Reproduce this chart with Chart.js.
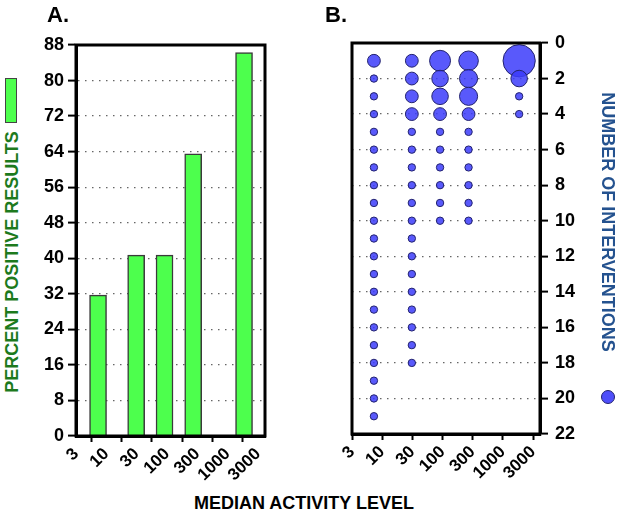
<!DOCTYPE html>
<html>
<head>
<meta charset="utf-8">
<script src="https://cdn.jsdelivr.net/npm/chart.js@4"></script>
<style>
  body { margin: 0; background: #fff; width: 618px; height: 514px; position: relative; overflow: hidden; font-family: 'Liberation Sans', Arial, sans-serif; }
  canvas { position: absolute; top: 0; }
  .lbl { position: absolute; font-weight: bold; white-space: nowrap; }
  .panel { font-size: 22px; color: #000; top: 2px; }
  .rot { transform-origin: center center; }
</style>
</head>
<body>
<canvas id="chart-a" width="240" height="490" style="left:40px"></canvas>
<canvas id="chart-b" width="300" height="490" style="left:300px"></canvas>

<div class="lbl panel" style="left:47px">A.</div>
<div class="lbl panel" style="left:325px">B.</div>

<div class="lbl rot" id="title-a" style="font-size:18px;color:#1d7a1d;left:12px;top:262px;transform:translate(-50%,-50%) rotate(-90deg)">PERCENT POSITIVE RESULTS</div>
<div style="position:absolute;left:5px;top:78px;width:10px;height:43px;background:#4dff4d;border:1px solid #444"></div>

<div class="lbl rot" id="title-b" style="font-size:18px;color:#24528f;left:607px;top:222px;transform:translate(-50%,-50%) rotate(90deg)">NUMBER OF INTERVENTIONS</div>
<div style="position:absolute;left:601px;top:390px;width:12px;height:12px;border-radius:50%;background:rgba(60,60,250,0.9);border:1px solid #22226e"></div>

<div class="lbl" style="font-size:18px;color:#000;left:304px;top:503px;transform:translate(-50%,-50%)">MEDIAN ACTIVITY LEVEL</div>

<script>
// ===== DATA =====
const tickLabels = ['3', '10', '30', '100', '300', '1000', '3000'];
const tickExponents = [0.5, 1, 1.5, 2, 2.5, 3, 3.5];

// median activity level of each group (same groups in A and B)
const activityLevels = [7.3, 31, 91, 270, 1860];

// A. percent positive results
const percentPositive = [31.7, 40.7, 40.7, 63.5, 86.3];

// B. relative weight of each bubble, one entry per intervention count (1, 2, 3 ...)
const weightsGroup1 = [3, 1, 1, 1, 1, 1, 1, 1, 1, 1, 1, 1, 1, 1, 1, 1, 1, 1, 1, 1, 1];
const weightsGroup2 = [3, 3, 3, 3, 1, 1, 1, 1, 1, 1, 1, 1, 1, 1, 1, 1, 1, 1];
const weightsGroup3 = [8, 5, 5, 3, 1, 1, 1, 1, 1, 1];
const weightsGroup4 = [7, 6, 6, 3, 1, 1, 1, 1, 1, 1];
const weightsGroup5 = [19, 5, 1, 1];

const yTicksA = { min: 0, max: 88, step: 8 };
const yTicksB = { min: 0, max: 22, step: 2 };

// ===== HELPERS =====
const FONT = "'Liberation Sans', Arial, sans-serif";

const boxPlugin = {
  id: 'box',
  afterDatasetsDraw(chart) {
    const a = chart.chartArea;
    const ctx = chart.ctx;
    ctx.save();
    ctx.strokeStyle = '#000';
    ctx.lineWidth = 3;
    ctx.strokeRect(a.left, a.top, a.right - a.left, a.bottom - a.top);
    ctx.restore();
  }
};

function logXAxis(height) {
  return {
    type: 'logarithmic',
    min: Math.pow(10, 0.5),
    max: Math.pow(10, 3.615),
    offset: false,
    afterBuildTicks(scale) {
      scale.ticks = tickExponents.map(e => ({ value: Math.pow(10, e) }));
    },
    afterFit(scale) { scale.height = height; },
    grid: { drawOnChartArea: false, drawTicks: true, tickLength: 6, tickColor: '#000', tickWidth: 2 },
    border: { color: '#000', width: 3 },
    ticks: {
      autoSkip: false,
      minRotation: 45,
      maxRotation: 45,
      padding: 2,
      color: '#000',
      font: { family: FONT, size: 17, weight: 'bold' },
      callback: (v, i) => tickLabels[i]
    }
  };
}

function dottedY(lim, width, position, pad) {
  return {
    position,
    min: lim.min,
    max: lim.max,
    afterFit(scale) { scale.width = width; },
    grid: {
      color: ctx => (ctx.tick && (ctx.tick.value === lim.min || ctx.tick.value === lim.max)) ? 'rgba(0,0,0,0)' : '#666',
      lineWidth: 1.2,
      drawTicks: true,
      tickLength: 8,
      tickColor: '#000',
      tickWidth: 2
    },
    border: { color: '#000', width: 3, dash: [1.5, 5.5] },
    ticks: {
      stepSize: lim.step,
      padding: pad,
      color: '#000',
      font: { family: FONT, size: 18, weight: 'bold' }
    }
  };
}

// ===== A. BARS =====
new Chart(document.getElementById('chart-a'), {
  type: 'bar',
  data: {
    datasets: [{
      data: activityLevels.map((x, i) => ({ x, y: percentPositive[i] })),
      backgroundColor: '#4dff4d',
      borderColor: '#3a3a3a',
      borderWidth: 1.5,
      barThickness: 17
    }]
  },
  options: {
    responsive: false,
    animation: false,
    layout: { padding: { top: 45, right: 15, left: 0, bottom: 0 } },
    plugins: { legend: { display: false }, tooltip: { enabled: false } },
    scales: {
      x: logXAxis(54),
      y: dottedY(yTicksA, 36, 'left', 4)
    }
  },
  plugins: [boxPlugin]
});

// ===== B. BUBBLES =====
const groups = [weightsGroup1, weightsGroup2, weightsGroup3, weightsGroup4, weightsGroup5];
const bubbles = [];
groups.forEach((weights, g) => {
  weights.forEach((w, i) => {
    bubbles.push({ x: activityLevels[g], y: i + 1, r: 3.7 * Math.sqrt(w) });
  });
});

const yB = dottedY(yTicksB, 45, 'right', 7);
yB.reverse = true;

new Chart(document.getElementById('chart-b'), {
  type: 'bubble',
  data: {
    datasets: [{
      data: bubbles,
      backgroundColor: 'rgba(60,60,250,0.85)',
      borderColor: '#22226e',
      borderWidth: 1
    }]
  },
  options: {
    responsive: false,
    animation: false,
    clip: false,
    layout: { padding: { top: 43, right: 15, left: 52, bottom: 0 } },
    plugins: { legend: { display: false }, tooltip: { enabled: false } },
    scales: {
      x: logXAxis(56),
      y: yB
    }
  },
  plugins: [boxPlugin]
});
</script>
</body>
</html>
